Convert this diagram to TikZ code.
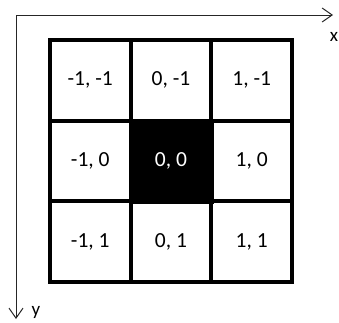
\documentclass[tikz,border=0pt]{standalone}
\usepackage{fontspec}
\setmainfont{Carlito}
\usetikzlibrary{arrows.meta,positioning}

\begin{document}
\begin{tikzpicture}[x=1pt, y=-1pt,
    cell/.style={draw=black, line width=4pt, fill=white, minimum width=81pt, minimum height=81pt, inner sep=0pt, font=\fontsize{21.5}{24}\selectfont},
    axis/.style={draw=black!85, line width=1pt, -{Straight Barb[length=10pt, width=14pt, line width=1pt]}},
    axislabel/.style={font=\fontsize{19}{21}\selectfont, inner sep=0pt}
]
    \useasboundingbox (0,0) rectangle (339,322);

    % Axes
    \coordinate (o) at (16,15);
    \coordinate (xend) at (333,15);
    \coordinate (yend) at (16,319);
    \draw[axis] (o) -- (xend);
    \draw[axis] (o) -- (yend);
    \node[axislabel] (xlab) at (334,37) {x};
    \node[axislabel] (ylab) at (36,312) {y};

    % Grid of neighbour offsets
    \foreach \i in {-1,0,1} {
        \foreach \j in {-1,0,1} {
            \node[cell] (c\i\j) at ({171+80.75*\i}, {161+80.75*\j}) {\i, \j};
        }
    }
    \node[cell, fill=black, text=white] (c00) at (171,161) {0, 0};
\end{tikzpicture}
\end{document}
